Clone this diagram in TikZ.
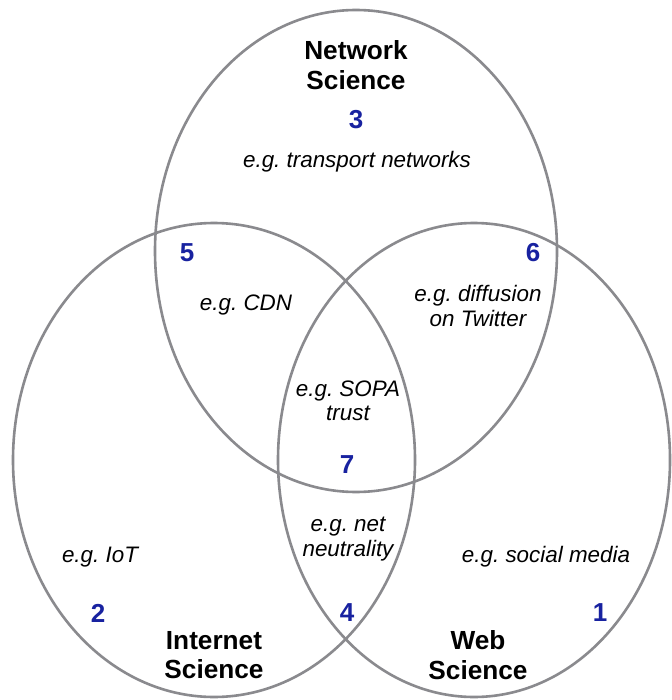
\documentclass[tikz,border=0pt]{standalone}
\usepackage{fontspec}
\setmainfont{Liberation Sans}
\frenchspacing
\definecolor{vennline}{RGB}{138,138,142}
\definecolor{numblue}{RGB}{24,34,160}
\begin{document}
\begin{tikzpicture}[x=1pt,y=-1pt,
  venn/.style={draw=vennline,line width=2.6pt},
  title/.style={inner sep=0pt,align=center,font=\fontsize{26.2}{29.5}\selectfont\bfseries},
  num/.style={inner sep=0pt,text=numblue,font=\fontsize{26}{28}\selectfont\bfseries},
  ex/.style={inner sep=0pt,align=center,font=\fontsize{22.4}{24.5}\selectfont\itshape\frenchspacing}]
\useasboundingbox (0,0) rectangle (671,700);
\fill[white] (0,0) rectangle (671,700);
% circles
\draw[venn] (356,251) ellipse [x radius=201, y radius=241];
\draw[venn] (214,460) ellipse [x radius=201, y radius=237];
\draw[venn] (474,460) ellipse [x radius=196, y radius=237];
% titles
\node[title] (tnet) at (356,65) {Network\\Science};
\node[title] (tint) at (214,655) {Internet\\Science};
\node[title] (tweb) at (478,655) {Web\\Science};
% numbers
\node[num] (n3) at (356,120) {3};
\node[num] (n5) at (187,253) {5};
\node[num] (n6) at (533,253) {6};
\node[num] (n7) at (347,465) {7};
\node[num] (n2) at (98,613) {2};
\node[num] (n4) at (347,613) {4};
\node[num] (n1) at (600,613) {1};
% examples
\node[ex] (e3) at (357,162) {e.g. transport networks};
\node[ex] (e5) at (246,305) {e.g. CDN};
\node[ex] (e6) at (478,306) {e.g. diffusion\\on Twitter};
\node[ex] (e7) at (348,401) {e.g. SOPA\\trust};
\node[ex] (e4) at (348,539) {e.g. net\\neutrality};
\node[ex] (e2) at (100,557) {e.g. IoT};
\node[ex] (e1) at (546,557) {e.g. social media};
\end{tikzpicture}
\end{document}
